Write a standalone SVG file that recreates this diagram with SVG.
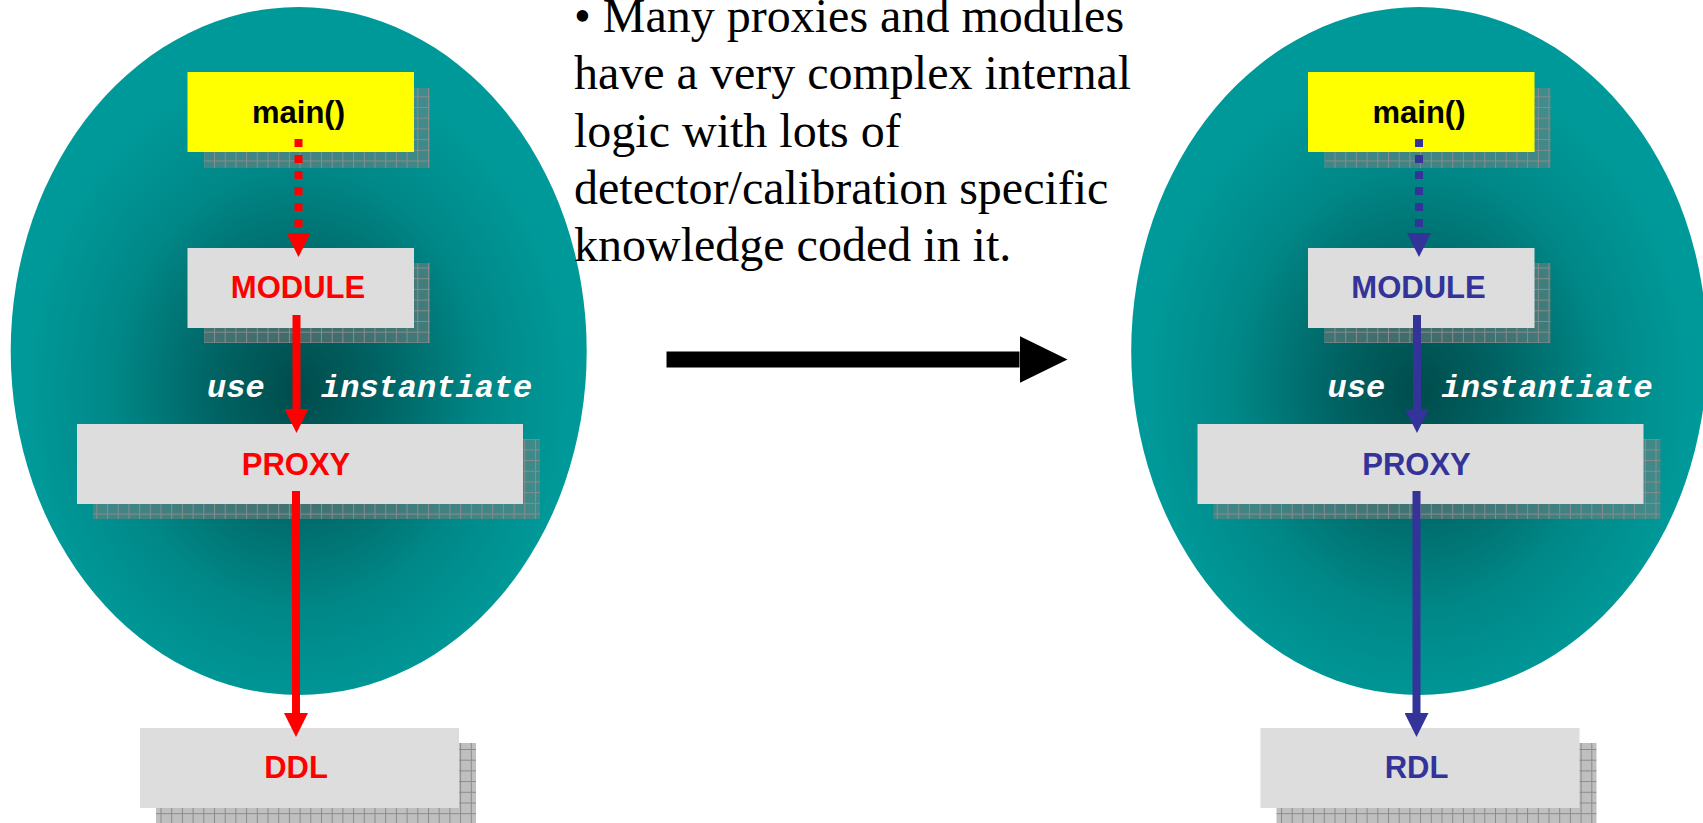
<svg xmlns="http://www.w3.org/2000/svg" width="1703" height="823" viewBox="0 0 1703 823">
  <style>
    .box { fill: #dddddd; }
    .main { fill: #ffff00; }
    .shadow { fill: url(#grid); }
    .lbl { font-family: "Liberation Sans", Arial, sans-serif; font-weight: bold; font-size: 31px; text-anchor: middle; }
    .red { fill: #ff0000; }
    .blue { fill: #333399; }
    .blk { fill: #000000; }
    .edge { font-family: "Liberation Mono", "Courier New", monospace; font-weight: bold; font-style: italic; font-size: 32px; fill: #ffffff; }
    .body { font-family: "Liberation Serif", "Times New Roman", serif; font-size: 48px; fill: #000000; }
    .lnR { stroke: #ff0000; stroke-width: 8; fill: none; }
    .lnB { stroke: #333399; stroke-width: 8; fill: none; }
    .dot { stroke-dasharray: 8 8; }
  </style>
  <defs>
    <radialGradient id="teal" cx="0.499" cy="0.556" r="0.5">
      <stop offset="0" stop-color="#004c4c"/>
      <stop offset="0.3" stop-color="#006464"/>
      <stop offset="0.65" stop-color="#008888"/>
      <stop offset="0.95" stop-color="#009999"/>
      <stop offset="1" stop-color="#009999"/>
    </radialGradient>
    <pattern id="grid" width="10.7" height="10.7" patternUnits="userSpaceOnUse">
      <rect width="10.7" height="10.7" fill="#808080" fill-opacity="0.5"/>
      <path d="M0 0.5 H10.7 M0.5 0 V10.7" stroke="#8a8a8a" stroke-width="1" fill="none"/>
    </pattern>
    <marker id="hR" markerUnits="userSpaceOnUse" markerWidth="24" markerHeight="24" refX="0" refY="12" orient="auto" viewBox="0 0 24 24">
      <path d="M0 0 L24 12 L0 24 Z" fill="#ff0000"/>
    </marker>
    <marker id="hB" markerUnits="userSpaceOnUse" markerWidth="24" markerHeight="24" refX="0" refY="12" orient="auto" viewBox="0 0 24 24">
      <path d="M0 0 L24 12 L0 24 Z" fill="#333399"/>
    </marker>
    <marker id="hK" markerUnits="userSpaceOnUse" markerWidth="48" markerHeight="47" refX="0" refY="23.5" orient="auto" viewBox="0 0 48 47">
      <path d="M0 0 L48 23.5 L0 47 Z" fill="#000000"/>
    </marker>
  </defs>

  <rect width="1703" height="823" fill="#ffffff"/>

  <g id="left-ellipse">
    <ellipse cx="298.7" cy="351" rx="288" ry="344" fill="url(#teal)"/>
  </g>
  <g id="right-ellipse">
    <ellipse cx="1419.2" cy="351" rx="288" ry="344" fill="url(#teal)"/>
  </g>

  <g id="text-block">
    <text class="body" x="574" y="32">• Many proxies and modules</text>
    <text class="body" x="574" y="89.3">have a very complex internal</text>
    <text class="body" x="574" y="146.6">logic with lots of</text>
    <text class="body" x="574" y="203.9">detector/calibration specific</text>
    <text class="body" x="574" y="261.2">knowledge coded in it.</text>
  </g>

  <!-- left cluster -->
  <g id="l-main">
    <rect class="shadow" x="204" y="88" width="226" height="80"/>
    <rect class="main" x="187.5" y="72" width="226.5" height="80"/>
    <text class="lbl blk" x="298.5" y="123">main()</text>
  </g>
  <g id="l-module">
    <rect class="shadow" x="204" y="263" width="226" height="80"/>
    <rect class="box" x="187.5" y="248" width="226.5" height="80"/>
    <text class="lbl red" x="298" y="298">MODULE</text>
  </g>
  <g id="l-proxy">
    <rect class="shadow" x="93" y="439" width="447" height="80"/>
    <rect class="box" x="77" y="424" width="446" height="80"/>
    <text class="lbl red" x="296" y="475">PROXY</text>
  </g>
  <g id="l-ddl">
    <rect class="shadow" x="156" y="743" width="320" height="80"/>
    <rect class="box" x="140" y="728" width="319" height="80"/>
    <text class="lbl red" x="296" y="778">DDL</text>
  </g>

  <!-- right cluster -->
  <g id="r-main" transform="translate(1120.5 0)">
    <rect class="shadow" x="204" y="88" width="226" height="80"/>
    <rect class="main" x="187.5" y="72" width="226.5" height="80"/>
    <text class="lbl blk" x="298.5" y="123">main()</text>
  </g>
  <g id="r-module" transform="translate(1120.5 0)">
    <rect class="shadow" x="204" y="263" width="226" height="80"/>
    <rect class="box" x="187.5" y="248" width="226.5" height="80"/>
    <text class="lbl blue" x="298" y="298">MODULE</text>
  </g>
  <g id="r-proxy" transform="translate(1120.5 0)">
    <rect class="shadow" x="93" y="439" width="447" height="80"/>
    <rect class="box" x="77" y="424" width="446" height="80"/>
    <text class="lbl blue" x="296" y="475">PROXY</text>
  </g>
  <g id="r-rdl" transform="translate(1120.5 0)">
    <rect class="shadow" x="156" y="743" width="320" height="80"/>
    <rect class="box" x="140" y="728" width="319" height="80"/>
    <text class="lbl blue" x="296" y="778">RDL</text>
  </g>

  <g id="connectors">
    <line class="lnR dot" x1="298.5" y1="139" x2="298.5" y2="233" marker-end="url(#hR)"/>
    <line class="lnR" x1="296.5" y1="315" x2="296.5" y2="409" marker-end="url(#hR)"/>
    <line class="lnR" x1="296" y1="491" x2="296" y2="713" marker-end="url(#hR)"/>
    <text class="edge" x="207" y="397">use</text>
    <text class="edge" x="321" y="397">instantiate</text>

    <line class="lnB dot" x1="1419" y1="139" x2="1419" y2="233" marker-end="url(#hB)"/>
    <line class="lnB" x1="1417" y1="315" x2="1417" y2="409" marker-end="url(#hB)"/>
    <line class="lnB" x1="1416.5" y1="491" x2="1416.5" y2="713" marker-end="url(#hB)"/>
    <text class="edge" x="1327.5" y="397">use</text>
    <text class="edge" x="1441.5" y="397">instantiate</text>

    <line x1="666.5" y1="359.5" x2="1019.5" y2="359.5" stroke="#000000" stroke-width="16" marker-end="url(#hK)"/>
  </g>
</svg>
